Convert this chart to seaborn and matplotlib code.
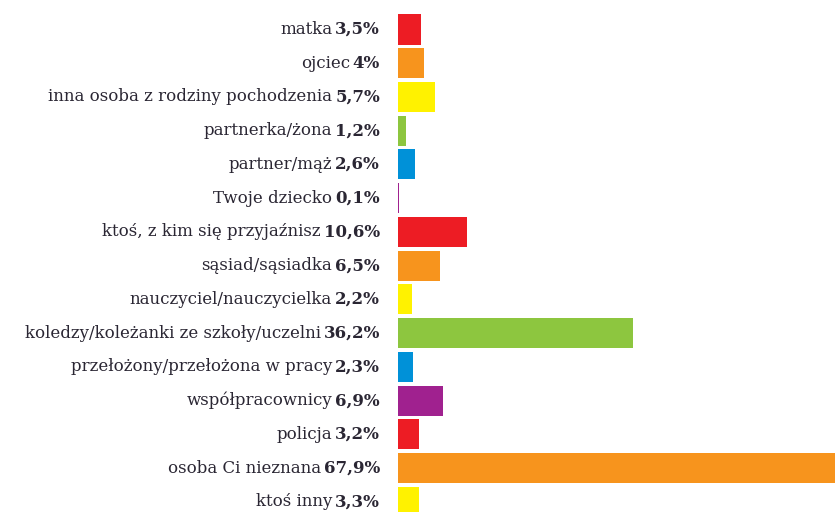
import matplotlib
matplotlib.use("Agg")
import matplotlib.pyplot as plt
import seaborn as sns
import pandas as pd

# Dane
kategorie = [
    "matka", "ojciec", "inna osoba z rodziny pochodzenia", "partnerka/żona",
    "partner/mąż", "Twoje dziecko", "ktoś, z kim się przyjaźnisz",
    "sąsiad/sąsiadka", "nauczyciel/nauczycielka",
    "koledzy/koleżanki ze szkoły/uczelni", "przełożony/przełożona w pracy",
    "współpracownicy", "policja", "osoba Ci nieznana", "ktoś inny",
]
wartosci = [3.5, 4.0, 5.7, 1.2, 2.6, 0.1, 10.6, 6.5, 2.2, 36.2, 2.3, 6.9, 3.2, 67.9, 3.3]
etykiety = ["3,5%", "4%", "5,7%", "1,2%", "2,6%", "0,1%", "10,6%", "6,5%", "2,2%",
            "36,2%", "2,3%", "6,9%", "3,2%", "67,9%", "3,3%"]
kolory_cykl = ["#ED1C24", "#F7941D", "#FFF200", "#8DC63F", "#0091D8", "#A0218F"]

df = pd.DataFrame({"kategoria": kategorie, "wartosc": wartosci})
kolory = [kolory_cykl[i % len(kolory_cykl)] for i in range(len(kategorie))]

sns.set_style("white")
plt.rcParams["font.family"] = ["DejaVu Serif"]

fig = plt.figure(figsize=(8.35, 5.12), dpi=100)
ax = fig.add_axes([398 / 835, 0, 437 / 835, 1])

sns.barplot(data=df, x="wartosc", y="kategoria", hue="kategoria", palette=kolory,
            order=kategorie, hue_order=kategorie, orient="h", width=0.89,
            saturation=1, linewidth=0, legend=False, ax=ax)

ax.set_xlim(0, 67.3)
ax.set_ylim(14.3, -0.874)
ax.set_axis_off()

# etykiety: nazwa zwykłą czcionką + wartość pogrubiona
kolor_tekstu = "#2a2633"
rozmiar = 12
fig.canvas.draw()
renderer = fig.canvas.get_renderer()
for i, (nazwa, etyk) in enumerate(zip(kategorie, etykiety)):
    t = ax.annotate(etyk, xy=(0, i), xytext=(-18, 0), textcoords="offset pixels",
                    ha="right", va="center", fontsize=rozmiar, fontweight="bold",
                    color=kolor_tekstu, annotation_clip=False)
    w = t.get_window_extent(renderer).width
    ax.annotate(nazwa, xy=(0, i), xytext=(-18 - w - 3, 0), textcoords="offset pixels",
                ha="right", va="center", fontsize=rozmiar, color=kolor_tekstu,
                annotation_clip=False)

fig.savefig("out.png", dpi=100)
